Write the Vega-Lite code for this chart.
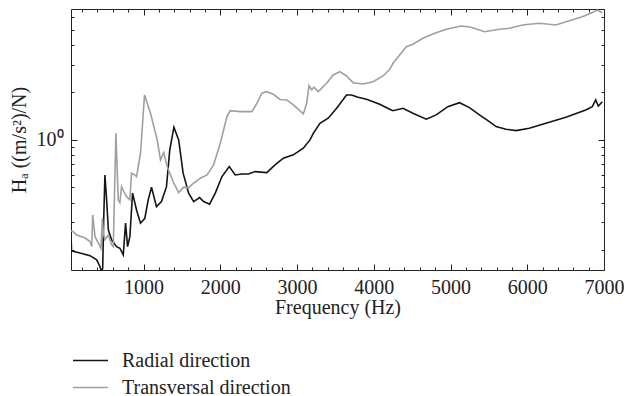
{
  "$schema": "https://vega.github.io/schema/vega-lite/v6.json",
  "width": 533,
  "height": 261,
  "autosize": {"type": "none"},
  "padding": {"left": 71, "top": 9, "right": 20, "bottom": 126},
  "config": {
    "view": {"stroke": "#222", "strokeWidth": 1},
    "font": "Liberation Serif",
    "axis": {"domain": false, "grid": false, "labelFont": "Liberation Serif", "titleFont": "Liberation Serif", "labelFontSize": 20, "titleFontSize": 20, "labelColor": "#222", "titleColor": "#222", "tickColor": "#222", "tickWidth": 1, "titleFontWeight": "normal"}
  },
  "data": {"values": [
    {"f":57,"v":0.24,"s":"Radial direction"},{"f":62,"v":0.2,"s":"Radial direction"},{"f":80,"v":0.197,"s":"Radial direction"},{"f":173,"v":0.192,"s":"Radial direction"},{"f":303,"v":0.185,"s":"Radial direction"},{"f":390,"v":0.174,"s":"Radial direction"},{"f":432,"v":0.158,"s":"Radial direction"},{"f":455,"v":0.145,"s":"Radial direction"},{"f":468,"v":0.154,"s":"Radial direction"},{"f":480,"v":0.3,"s":"Radial direction"},{"f":497,"v":0.6,"s":"Radial direction"},{"f":519,"v":0.417,"s":"Radial direction"},{"f":542,"v":0.269,"s":"Radial direction"},{"f":584,"v":0.233,"s":"Radial direction"},{"f":649,"v":0.211,"s":"Radial direction"},{"f":692,"v":0.206,"s":"Radial direction"},{"f":736,"v":0.187,"s":"Radial direction"},{"f":766,"v":0.297,"s":"Radial direction"},{"f":792,"v":0.211,"s":"Radial direction"},{"f":822,"v":0.244,"s":"Radial direction"},{"f":857,"v":0.46,"s":"Radial direction"},{"f":909,"v":0.36,"s":"Radial direction"},{"f":961,"v":0.297,"s":"Radial direction"},{"f":1017,"v":0.319,"s":"Radial direction"},{"f":1061,"v":0.417,"s":"Radial direction"},{"f":1104,"v":0.502,"s":"Radial direction"},{"f":1169,"v":0.378,"s":"Radial direction"},{"f":1234,"v":0.407,"s":"Radial direction"},{"f":1299,"v":0.506,"s":"Radial direction"},{"f":1342,"v":0.864,"s":"Radial direction"},{"f":1396,"v":1.204,"s":"Radial direction"},{"f":1458,"v":1.0,"s":"Radial direction"},{"f":1516,"v":0.616,"s":"Radial direction"},{"f":1588,"v":0.46,"s":"Radial direction"},{"f":1653,"v":0.407,"s":"Radial direction"},{"f":1731,"v":0.431,"s":"Radial direction"},{"f":1783,"v":0.407,"s":"Radial direction"},{"f":1861,"v":0.392,"s":"Radial direction"},{"f":1935,"v":0.46,"s":"Radial direction"},{"f":2022,"v":0.586,"s":"Radial direction"},{"f":2117,"v":0.678,"s":"Radial direction"},{"f":2195,"v":0.6,"s":"Radial direction"},{"f":2282,"v":0.609,"s":"Radial direction"},{"f":2368,"v":0.609,"s":"Radial direction"},{"f":2455,"v":0.63,"s":"Radial direction"},{"f":2606,"v":0.621,"s":"Radial direction"},{"f":2714,"v":0.695,"s":"Radial direction"},{"f":2822,"v":0.766,"s":"Radial direction"},{"f":2952,"v":0.804,"s":"Radial direction"},{"f":3082,"v":0.886,"s":"Radial direction"},{"f":3169,"v":1.0,"s":"Radial direction"},{"f":3212,"v":1.1,"s":"Radial direction"},{"f":3299,"v":1.275,"s":"Radial direction"},{"f":3406,"v":1.372,"s":"Radial direction"},{"f":3516,"v":1.587,"s":"Radial direction"},{"f":3645,"v":1.927,"s":"Radial direction"},{"f":3710,"v":1.927,"s":"Radial direction"},{"f":3796,"v":1.863,"s":"Radial direction"},{"f":3905,"v":1.81,"s":"Radial direction"},{"f":4078,"v":1.683,"s":"Radial direction"},{"f":4208,"v":1.564,"s":"Radial direction"},{"f":4251,"v":1.532,"s":"Radial direction"},{"f":4381,"v":1.587,"s":"Radial direction"},{"f":4510,"v":1.476,"s":"Radial direction"},{"f":4684,"v":1.352,"s":"Radial direction"},{"f":4814,"v":1.44,"s":"Radial direction"},{"f":4965,"v":1.625,"s":"Radial direction"},{"f":5117,"v":1.722,"s":"Radial direction"},{"f":5247,"v":1.601,"s":"Radial direction"},{"f":5377,"v":1.44,"s":"Radial direction"},{"f":5506,"v":1.305,"s":"Radial direction"},{"f":5594,"v":1.214,"s":"Radial direction"},{"f":5723,"v":1.169,"s":"Radial direction"},{"f":5853,"v":1.145,"s":"Radial direction"},{"f":6026,"v":1.186,"s":"Radial direction"},{"f":6243,"v":1.275,"s":"Radial direction"},{"f":6503,"v":1.392,"s":"Radial direction"},{"f":6762,"v":1.549,"s":"Radial direction"},{"f":6848,"v":1.625,"s":"Radial direction"},{"f":6892,"v":1.791,"s":"Radial direction"},{"f":6926,"v":1.641,"s":"Radial direction"},{"f":6978,"v":1.747,"s":"Radial direction"},
    {"f":57,"v":0.265,"s":"Transversal direction"},{"f":78,"v":0.263,"s":"Transversal direction"},{"f":130,"v":0.25,"s":"Transversal direction"},{"f":238,"v":0.239,"s":"Transversal direction"},{"f":303,"v":0.227,"s":"Transversal direction"},{"f":325,"v":0.211,"s":"Transversal direction"},{"f":338,"v":0.335,"s":"Transversal direction"},{"f":368,"v":0.244,"s":"Transversal direction"},{"f":412,"v":0.222,"s":"Transversal direction"},{"f":445,"v":0.206,"s":"Transversal direction"},{"f":464,"v":0.319,"s":"Transversal direction"},{"f":477,"v":0.257,"s":"Transversal direction"},{"f":497,"v":0.233,"s":"Transversal direction"},{"f":542,"v":0.25,"s":"Transversal direction"},{"f":584,"v":0.217,"s":"Transversal direction"},{"f":606,"v":0.211,"s":"Transversal direction"},{"f":640,"v":1.1,"s":"Transversal direction"},{"f":671,"v":0.417,"s":"Transversal direction"},{"f":692,"v":0.401,"s":"Transversal direction"},{"f":714,"v":0.506,"s":"Transversal direction"},{"f":744,"v":0.471,"s":"Transversal direction"},{"f":779,"v":0.438,"s":"Transversal direction"},{"f":822,"v":0.417,"s":"Transversal direction"},{"f":844,"v":0.616,"s":"Transversal direction"},{"f":887,"v":0.6,"s":"Transversal direction"},{"f":909,"v":0.586,"s":"Transversal direction"},{"f":961,"v":0.824,"s":"Transversal direction"},{"f":1013,"v":1.927,"s":"Transversal direction"},{"f":1091,"v":1.476,"s":"Transversal direction"},{"f":1178,"v":1.0,"s":"Transversal direction"},{"f":1221,"v":0.747,"s":"Transversal direction"},{"f":1264,"v":0.833,"s":"Transversal direction"},{"f":1308,"v":0.678,"s":"Transversal direction"},{"f":1394,"v":0.532,"s":"Transversal direction"},{"f":1458,"v":0.464,"s":"Transversal direction"},{"f":1523,"v":0.502,"s":"Transversal direction"},{"f":1588,"v":0.499,"s":"Transversal direction"},{"f":1653,"v":0.532,"s":"Transversal direction"},{"f":1740,"v":0.572,"s":"Transversal direction"},{"f":1827,"v":0.6,"s":"Transversal direction"},{"f":1913,"v":0.695,"s":"Transversal direction"},{"f":2000,"v":0.953,"s":"Transversal direction"},{"f":2087,"v":1.404,"s":"Transversal direction"},{"f":2130,"v":1.532,"s":"Transversal direction"},{"f":2260,"v":1.51,"s":"Transversal direction"},{"f":2412,"v":1.51,"s":"Transversal direction"},{"f":2477,"v":1.707,"s":"Transversal direction"},{"f":2542,"v":1.975,"s":"Transversal direction"},{"f":2606,"v":2.022,"s":"Transversal direction"},{"f":2692,"v":1.946,"s":"Transversal direction"},{"f":2779,"v":1.804,"s":"Transversal direction"},{"f":2866,"v":1.791,"s":"Transversal direction"},{"f":2952,"v":1.666,"s":"Transversal direction"},{"f":3082,"v":1.461,"s":"Transversal direction"},{"f":3126,"v":1.707,"s":"Transversal direction"},{"f":3156,"v":2.207,"s":"Transversal direction"},{"f":3191,"v":2.073,"s":"Transversal direction"},{"f":3221,"v":2.156,"s":"Transversal direction"},{"f":3277,"v":2.022,"s":"Transversal direction"},{"f":3386,"v":2.285,"s":"Transversal direction"},{"f":3471,"v":2.579,"s":"Transversal direction"},{"f":3558,"v":2.706,"s":"Transversal direction"},{"f":3645,"v":2.542,"s":"Transversal direction"},{"f":3731,"v":2.305,"s":"Transversal direction"},{"f":3861,"v":2.261,"s":"Transversal direction"},{"f":3991,"v":2.339,"s":"Transversal direction"},{"f":4121,"v":2.542,"s":"Transversal direction"},{"f":4208,"v":2.803,"s":"Transversal direction"},{"f":4251,"v":3.058,"s":"Transversal direction"},{"f":4425,"v":3.896,"s":"Transversal direction"},{"f":4510,"v":4.034,"s":"Transversal direction"},{"f":4640,"v":4.402,"s":"Transversal direction"},{"f":4770,"v":4.688,"s":"Transversal direction"},{"f":4944,"v":5.02,"s":"Transversal direction"},{"f":5139,"v":5.267,"s":"Transversal direction"},{"f":5269,"v":5.169,"s":"Transversal direction"},{"f":5442,"v":4.847,"s":"Transversal direction"},{"f":5636,"v":5.02,"s":"Transversal direction"},{"f":5766,"v":5.093,"s":"Transversal direction"},{"f":5939,"v":5.345,"s":"Transversal direction"},{"f":6156,"v":5.48,"s":"Transversal direction"},{"f":6373,"v":5.345,"s":"Transversal direction"},{"f":6545,"v":5.69,"s":"Transversal direction"},{"f":6718,"v":6.032,"s":"Transversal direction"},{"f":6827,"v":6.339,"s":"Transversal direction"},{"f":6913,"v":6.649,"s":"Transversal direction"},{"f":6978,"v":6.394,"s":"Transversal direction"}
  ]},
  "layer": [
    {
      "mark": {"type": "line", "clip": true, "strokeWidth": 1.6},
      "encoding": {
        "x": {"field": "f", "type": "quantitative", "scale": {"domain": [55, 7000], "nice": false, "zero": false},
          "axis": {"orient": "bottom", "values": [1000, 2000, 3000, 4000, 5000, 6000, 7000], "format": "d", "ticks": false, "tickSize": 0, "labelPadding": 7, "labelFlush": false, "title": "Frequency (Hz)", "titlePadding": 0}},
        "y": {"field": "v", "type": "quantitative", "scale": {"type": "log", "domain": [0.15, 6.75], "nice": false},
          "axis": {"orient": "left", "values": [1], "labelExpr": "'10⁰'", "ticks": false, "tickSize": 0, "labelPadding": 8, "title": "Hₐ ((m/s²)/N)", "titlePadding": 7}},
        "color": {"field": "s", "type": "nominal",
          "scale": {"domain": ["Radial direction", "Transversal direction"], "range": ["#141414", "#a0a0a0"]},
          "legend": {"orient": "none", "legendX": 1, "legendY": 339, "title": null, "symbolType": "stroke", "symbolSize": 1225, "symbolStrokeWidth": 1.5, "clipHeight": 25, "labelFont": "Liberation Serif", "labelFontSize": 20, "labelColor": "#222", "labelOffset": 13, "labelLimit": 500, "padding": 0, "rowPadding": 2}}
      }
    },
    {
      "mark": {"type": "line", "strokeOpacity": 0},
      "encoding": {
        "x": {"field": "f", "type": "quantitative", "scale": {"domain": [55, 7000], "nice": false, "zero": false},
          "axis": {"orient": "bottom", "values": [1000, 2000, 3000, 4000, 5000, 6000, 7000], "labels": false, "tickSize": -6, "title": null}},
        "y": {"field": "v", "type": "quantitative", "scale": {"type": "log", "domain": [0.15, 6.75], "nice": false},
          "axis": {"orient": "left", "values": [1], "labels": false, "tickSize": -6, "title": null}}
      }
    },
    {
      "mark": {"type": "line", "strokeOpacity": 0},
      "encoding": {
        "x": {"field": "f", "type": "quantitative", "scale": {"domain": [55, 7000], "nice": false, "zero": false},
          "axis": {"orient": "bottom", "values": [200, 400, 600, 800, 1200, 1400, 1600, 1800, 2200, 2400, 2600, 2800, 3200, 3400, 3600, 3800, 4200, 4400, 4600, 4800, 5200, 5400, 5600, 5800, 6200, 6400, 6600, 6800], "labels": false, "tickSize": -3, "title": null}},
        "y": {"field": "v", "type": "quantitative", "scale": {"type": "log", "domain": [0.15, 6.75], "nice": false},
          "axis": {"orient": "left", "values": [0.2, 0.3, 0.4, 0.5, 0.6, 0.7, 0.8, 0.9, 2, 3, 4, 5, 6], "labels": false, "tickSize": -3, "title": null}}
      }
    },
    {
      "mark": {"type": "line", "strokeOpacity": 0},
      "encoding": {
        "x": {"field": "f", "type": "quantitative", "scale": {"domain": [55, 7000], "nice": false, "zero": false},
          "axis": {"orient": "top", "values": [1000, 2000, 3000, 4000, 5000, 6000, 7000], "labels": false, "tickSize": -6, "title": null}},
        "y": {"field": "v", "type": "quantitative", "scale": {"type": "log", "domain": [0.15, 6.75], "nice": false},
          "axis": {"orient": "right", "values": [1], "labels": false, "tickSize": -6, "title": null}}
      }
    },
    {
      "mark": {"type": "line", "strokeOpacity": 0},
      "encoding": {
        "x": {"field": "f", "type": "quantitative", "scale": {"domain": [55, 7000], "nice": false, "zero": false},
          "axis": {"orient": "top", "values": [200, 400, 600, 800, 1200, 1400, 1600, 1800, 2200, 2400, 2600, 2800, 3200, 3400, 3600, 3800, 4200, 4400, 4600, 4800, 5200, 5400, 5600, 5800, 6200, 6400, 6600, 6800], "labels": false, "tickSize": -3, "title": null}},
        "y": {"field": "v", "type": "quantitative", "scale": {"type": "log", "domain": [0.15, 6.75], "nice": false},
          "axis": {"orient": "right", "values": [0.2, 0.3, 0.4, 0.5, 0.6, 0.7, 0.8, 0.9, 2, 3, 4, 5, 6], "labels": false, "tickSize": -3, "title": null}}
      }
    }
  ],
  "resolve": {"axis": {"x": "independent", "y": "independent"}}
}
